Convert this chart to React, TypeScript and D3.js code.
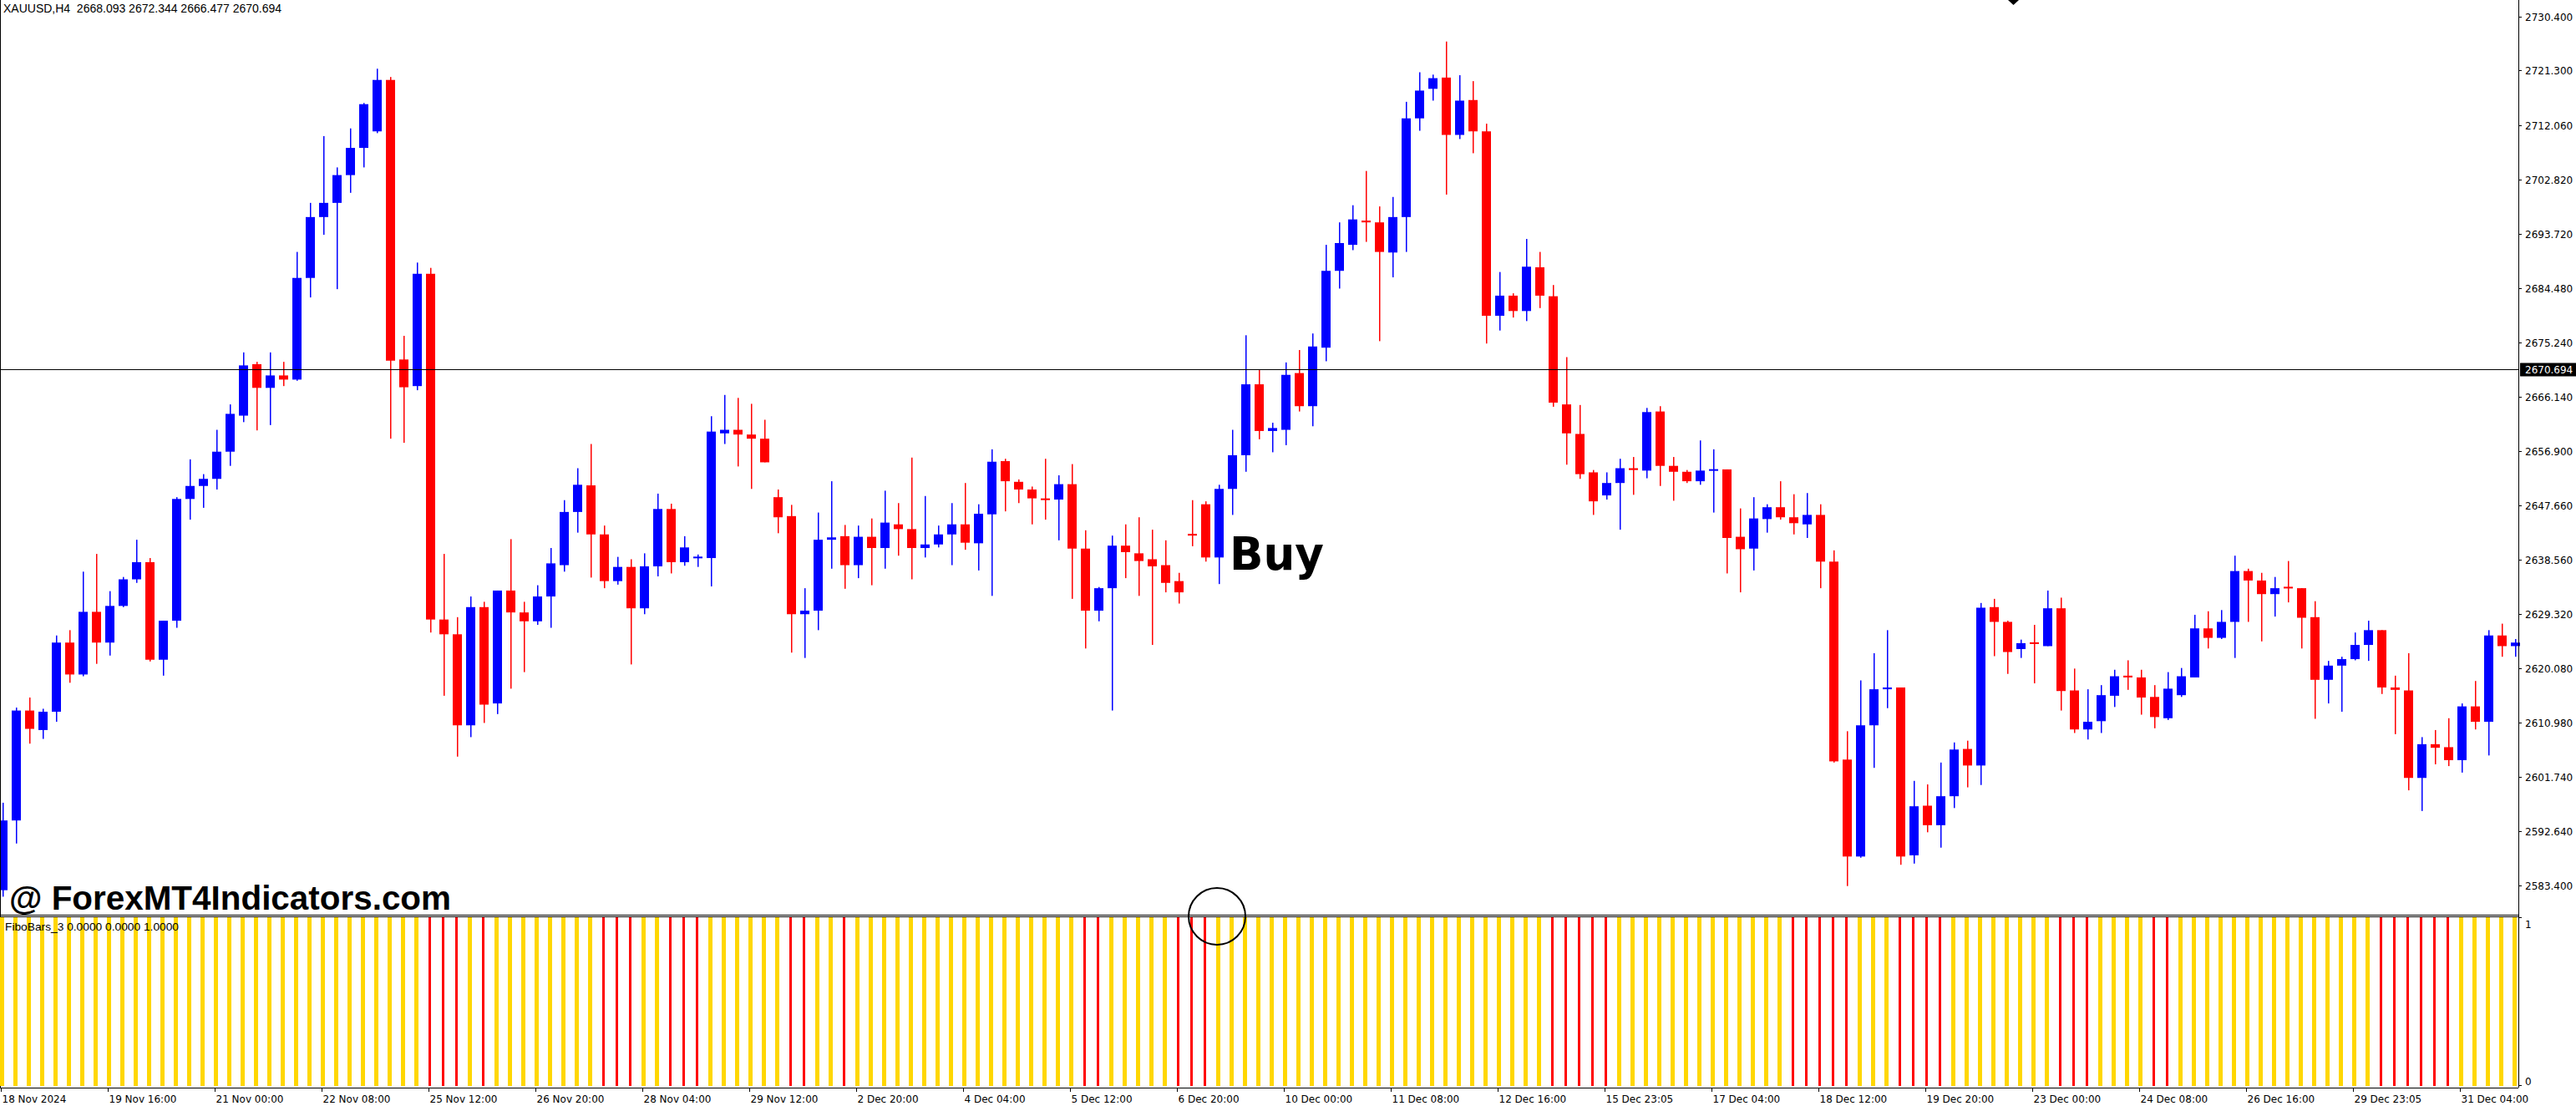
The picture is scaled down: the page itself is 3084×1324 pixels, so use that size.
import React, { useEffect } from "react";
import * as d3 from "d3";

// ---- data (XAUUSD H4, 18 Nov 2024 - 31 Dec 2024) ----
const opens = [
  2582.6, 2594.4, 2613.0, 2609.7, 2612.8, 2624.5, 2619.1, 2629.7, 2624.5, 2630.7,
  2635.2, 2638.1, 2621.6, 2628.2, 2648.8, 2651.0, 2652.2, 2656.8, 2662.9, 2671.6,
  2667.6, 2669.7, 2669.0, 2686.2, 2696.5, 2698.9, 2703.6, 2708.2, 2711.0, 2719.7,
  2672.4, 2667.9, 2686.9, 2628.4, 2625.9, 2610.5, 2630.5, 2614.2, 2633.3, 2629.6,
  2628.1, 2632.3, 2637.6, 2646.6, 2651.1, 2642.8, 2634.9, 2637.3, 2630.3, 2637.4,
  2647.1, 2638.1, 2638.8, 2638.8, 2659.9, 2660.5, 2659.7, 2659.0, 2649.1, 2645.9,
  2629.3, 2629.9, 2641.9, 2642.5, 2637.6, 2642.4, 2640.5, 2644.5, 2643.7, 2640.5,
  2641.1, 2642.8, 2644.5, 2641.3, 2646.2, 2655.2, 2651.7, 2650.4, 2648.8, 2648.7,
  2651.3, 2640.4, 2629.9, 2633.7, 2640.9, 2639.6, 2638.6, 2637.6, 2634.9, 2642.9,
  2647.9, 2638.9, 2650.5, 2656.2, 2668.2, 2660.3, 2660.5, 2670.1, 2664.5, 2674.4,
  2687.4, 2691.8, 2695.9, 2695.6, 2690.5, 2696.5, 2713.2, 2718.2, 2720.1, 2710.4,
  2716.3, 2711.0, 2679.8, 2683.2, 2680.6, 2688.0, 2683.1, 2664.8, 2659.8, 2653.3,
  2649.4, 2651.5, 2654.0, 2653.6, 2663.6, 2654.4, 2653.4, 2651.8, 2653.6, 2653.8,
  2642.4, 2640.4, 2645.4, 2647.4, 2645.7, 2644.5, 2646.1, 2638.2, 2604.7, 2588.3,
  2610.5, 2616.6, 2616.9, 2588.5, 2596.9, 2593.6, 2598.5, 2606.5, 2603.7, 2630.5,
  2628.0, 2623.4, 2624.5, 2623.9, 2630.3, 2616.4, 2609.8, 2611.2, 2615.5, 2618.9,
  2618.6, 2615.3, 2611.7, 2615.6, 2618.6, 2626.9, 2625.3, 2628.0, 2636.6, 2635.0,
  2632.7, 2633.9, 2633.7, 2628.8, 2618.2, 2620.6, 2621.7, 2624.1, 2626.6, 2616.9,
  2616.4, 2601.6, 2607.3, 2606.8, 2604.6, 2613.7, 2611.1, 2625.7, 2623.9,
];
const highs = [
  2597.4, 2613.5, 2615.2, 2613.3, 2625.7, 2626.6, 2636.5, 2639.5, 2633.2, 2635.6,
  2641.9, 2638.8, 2628.2, 2649.1, 2655.5, 2653.0, 2660.5, 2664.8, 2673.6, 2672.0,
  2673.6, 2672.0, 2690.6, 2698.9, 2710.2, 2704.9, 2711.5, 2715.8, 2721.6, 2720.2,
  2676.4, 2688.8, 2687.9, 2639.5, 2628.8, 2632.3, 2631.4, 2633.3, 2642.0, 2631.4,
  2634.2, 2640.5, 2648.6, 2654.0, 2658.1, 2644.3, 2639.0, 2638.6, 2639.6, 2649.7,
  2648.0, 2642.5, 2639.4, 2662.8, 2666.4, 2665.9, 2664.9, 2662.2, 2650.4, 2647.8,
  2633.7, 2646.5, 2651.8, 2644.4, 2644.3, 2645.5, 2650.2, 2648.1, 2655.8, 2649.3,
  2644.3, 2648.1, 2651.5, 2647.9, 2657.2, 2655.6, 2652.1, 2650.9, 2655.6, 2652.8,
  2654.7, 2643.5, 2633.9, 2642.6, 2644.5, 2645.7, 2643.6, 2641.8, 2636.3, 2648.6,
  2648.4, 2651.2, 2660.5, 2676.5, 2670.6, 2661.7, 2671.9, 2674.0, 2676.8, 2691.8,
  2695.6, 2698.5, 2704.3, 2698.3, 2699.9, 2716.0, 2721.0, 2720.6, 2726.2, 2720.5,
  2719.5, 2712.3, 2687.2, 2683.6, 2692.8, 2690.6, 2685.0, 2672.8, 2664.7, 2653.7,
  2653.3, 2655.6, 2655.9, 2664.2, 2664.5, 2655.9, 2653.7, 2658.7, 2657.2, 2653.8,
  2647.2, 2649.1, 2647.9, 2651.8, 2649.6, 2649.8, 2647.9, 2640.1, 2609.5, 2618.1,
  2622.7, 2626.6, 2616.9, 2601.1, 2600.5, 2604.2, 2607.6, 2607.9, 2631.2, 2631.9,
  2628.2, 2625.0, 2627.5, 2633.3, 2632.1, 2620.1, 2616.6, 2617.3, 2619.9, 2621.5,
  2619.9, 2617.3, 2619.5, 2620.2, 2629.2, 2629.8, 2630.0, 2639.2, 2637.0, 2636.3,
  2635.6, 2638.3, 2633.7, 2631.5, 2621.4, 2622.1, 2626.2, 2628.2, 2626.6, 2618.9,
  2622.7, 2608.5, 2609.7, 2611.7, 2614.2, 2618.0, 2626.6, 2627.7, 2625.1,
];
const lows = [
  2581.5, 2590.5, 2607.4, 2608.2, 2611.1, 2617.7, 2618.8, 2620.9, 2622.3, 2630.5,
  2634.6, 2621.3, 2618.9, 2627.0, 2645.3, 2647.3, 2650.4, 2654.4, 2661.8, 2660.4,
  2661.3, 2667.9, 2668.8, 2682.9, 2693.5, 2684.3, 2700.6, 2704.9, 2710.7, 2659.0,
  2658.3, 2667.2, 2626.2, 2615.5, 2605.2, 2608.5, 2610.9, 2612.4, 2616.7, 2619.5,
  2627.5, 2627.0, 2636.5, 2643.1, 2635.5, 2633.7, 2634.3, 2620.8, 2629.3, 2635.7,
  2636.2, 2637.5, 2637.3, 2634.0, 2658.1, 2654.3, 2650.5, 2655.0, 2643.0, 2622.8,
  2621.9, 2626.6, 2637.0, 2633.6, 2635.4, 2634.2, 2637.0, 2639.2, 2635.2, 2638.9,
  2640.6, 2637.6, 2640.2, 2636.7, 2632.4, 2646.7, 2648.1, 2644.5, 2645.3, 2641.8,
  2631.9, 2623.5, 2628.1, 2613.0, 2635.4, 2632.4, 2624.1, 2633.0, 2631.1, 2640.8,
  2638.2, 2634.4, 2646.1, 2653.4, 2658.9, 2656.7, 2657.9, 2663.6, 2661.1, 2672.1,
  2684.4, 2690.9, 2692.3, 2675.5, 2686.3, 2690.6, 2711.1, 2716.2, 2700.3, 2709.7,
  2707.3, 2675.1, 2677.3, 2679.5, 2678.9, 2681.1, 2664.4, 2654.6, 2652.2, 2646.1,
  2648.7, 2643.6, 2649.5, 2652.3, 2651.0, 2648.5, 2651.5, 2651.2, 2646.5, 2636.2,
  2633.0, 2636.7, 2643.1, 2645.3, 2642.8, 2642.2, 2633.7, 2604.2, 2583.3, 2588.1,
  2603.3, 2613.4, 2586.9, 2587.1, 2592.4, 2589.8, 2596.5, 2600.0, 2600.4, 2622.2,
  2619.2, 2621.9, 2617.6, 2623.9, 2613.0, 2609.2, 2608.1, 2609.2, 2613.6, 2616.5,
  2612.3, 2610.0, 2611.4, 2615.3, 2618.6, 2623.5, 2625.1, 2621.9, 2628.0, 2624.7,
  2628.9, 2631.3, 2623.5, 2611.6, 2614.2, 2612.8, 2621.5, 2621.4, 2615.8, 2609.0,
  2599.5, 2596.0, 2603.9, 2603.6, 2602.5, 2609.8, 2605.4, 2622.1, 2622.1,
];
const closes = [
  2594.4, 2613.0, 2609.9, 2612.8, 2624.5, 2619.1, 2629.7, 2624.5, 2630.7, 2635.2,
  2638.1, 2621.6, 2628.2, 2648.8, 2651.0, 2652.2, 2656.8, 2663.2, 2671.4, 2667.6,
  2669.7, 2669.0, 2686.2, 2696.5, 2698.9, 2703.6, 2708.2, 2715.6, 2719.7, 2672.2,
  2667.7, 2686.9, 2628.4, 2625.9, 2610.5, 2630.5, 2614.0, 2633.3, 2629.6, 2628.1,
  2632.3, 2637.9, 2646.6, 2651.2, 2642.8, 2634.9, 2637.3, 2630.3, 2637.4, 2647.1,
  2638.1, 2640.6, 2639.0, 2660.2, 2660.5, 2659.7, 2659.0, 2655.0, 2645.7, 2629.3,
  2629.9, 2641.9, 2642.3, 2637.6, 2642.4, 2640.5, 2644.8, 2643.7, 2640.5, 2641.1,
  2642.8, 2644.5, 2641.4, 2646.3, 2655.1, 2651.8, 2650.4, 2648.9, 2648.7, 2651.3,
  2640.4, 2629.9, 2633.7, 2640.9, 2639.8, 2638.3, 2637.4, 2634.6, 2633.0, 2642.6,
  2638.9, 2650.5, 2656.2, 2668.2, 2660.3, 2660.8, 2669.8, 2664.5, 2674.6, 2687.4,
  2692.1, 2696.1, 2695.6, 2690.6, 2696.5, 2713.2, 2717.9, 2720.0, 2710.4, 2716.2,
  2711.0, 2679.8, 2683.2, 2680.6, 2688.1, 2683.2, 2665.1, 2659.9, 2653.0, 2648.4,
  2651.5, 2654.0, 2653.7, 2663.5, 2654.4, 2653.4, 2651.8, 2653.6, 2653.8, 2642.2,
  2640.3, 2645.5, 2647.4, 2645.7, 2644.7, 2646.1, 2638.2, 2604.4, 2588.3, 2610.5,
  2616.6, 2616.9, 2588.3, 2596.8, 2593.6, 2598.5, 2606.4, 2603.7, 2630.4, 2628.0,
  2622.9, 2624.4, 2624.3, 2630.3, 2616.3, 2609.8, 2611.1, 2615.6, 2618.8, 2618.6,
  2615.2, 2611.9, 2616.7, 2618.8, 2626.9, 2625.3, 2628.0, 2636.6, 2635.0, 2632.7,
  2633.7, 2633.7, 2628.7, 2618.2, 2620.6, 2621.7, 2624.1, 2626.6, 2616.9, 2616.5,
  2601.6, 2607.3, 2606.7, 2604.6, 2613.7, 2611.1, 2625.7, 2623.9, 2624.5,
];

// FiboBars_3 state per bar: Y = up (gold), R = down (red)
const fiboSignal = (
  "YYYYYYYYYYYYYYYYYYYYYYYYYYYYYYYY" + // 0-31
  "RRRYRYYYYYYYYRRRYYRRRYYYYYYRRYYR" + // 32-63
  "YYYYYYYYYYYYYYYYYRRYYYYYRRRYYYYY" + // 64-95
  "YYYYYYYYYYYYYYYYYYYYRRRRRYYYYYYY" + // 96-127
  "YYYYYYRRRRRYYYRRRRYYYYYYYYRRRYYY" + // 128-159
  "YRRYYYYYYYYYYYYYYYRRRRRRYYYYY"      // 160-188
).split("");

const priceTicks = [
  "2730.400", "2721.300", "2712.060", "2702.820", "2693.720", "2684.480",
  "2675.240", "2666.140", "2656.900", "2647.660", "2638.560", "2629.320",
  "2620.080", "2610.980", "2601.740", "2592.640", "2583.400",
];

const timeLabels = [
  "18 Nov 2024", "19 Nov 16:00", "21 Nov 00:00", "22 Nov 08:00", "25 Nov 12:00",
  "26 Nov 20:00", "28 Nov 04:00", "29 Nov 12:00", "2 Dec 20:00", "4 Dec 04:00",
  "5 Dec 12:00", "6 Dec 20:00", "10 Dec 00:00", "11 Dec 08:00", "12 Dec 16:00",
  "15 Dec 23:05", "17 Dec 04:00", "18 Dec 12:00", "19 Dec 20:00", "23 Dec 00:00",
  "24 Dec 08:00", "26 Dec 16:00", "29 Dec 23:05", "31 Dec 04:00",
];
const timeLabelStep = 8;

const headerText = "XAUUSD,H4  2668.093 2672.344 2666.477 2670.694";
const bidPrice = 2670.694;
const indicatorLabel = "FiboBars_3 0.0000 0.0000 1.0000";
const signalBarIndex = 91;

// ---- layout ----
const W = 3084;
const H = 1324;
const AXIS_X = 3015;
const MAIN_BOTTOM = 1095;
const IND_TOP = 1097;
const IND_BOTTOM = 1302;
const FONT = "'DejaVu Sans', Verdana, sans-serif";
const LABEL_FONT = "'Liberation Sans', Arial, sans-serif";

export default function App() {
  useEffect(() => {
    document.body.style.margin = "0";
  }, []);

  const n = closes.length;
  const x = d3.scaleLinear().domain([0, n - 1]).range([3, 3011]);
  const y = d3.scaleLinear().domain([2583.4, 2730.4]).range([1060, 20]);
  const yi = d3.scaleLinear().domain([0, 1]).range([1300, 1098]);

  const BLUE = "#0000ff";
  const RED = "#ff0000";
  const GOLD = "#ffd700";

  const candles = d3.range(n).map((i) => {
    const o = opens[i], c = closes[i], h = highs[i], l = lows[i];
    const up = c >= o;
    const col = up ? BLUE : RED;
    const cx = Math.round(x(i));
    const yTop = y(Math.max(o, c));
    const yBot = y(Math.min(o, c));
    const bh = Math.max(2, yBot - yTop);
    return (
      <g key={i}>
        <rect x={cx} y={y(h)} width={1.5} height={y(l) - y(h)} fill={col} />
        <rect x={cx - 5} y={bh === 2 ? (yTop + yBot) / 2 - 1 : yTop} width={11} height={bh} fill={col} />
      </g>
    );
  });

  const indBars = fiboSignal.map((s, i) => {
    const cx = Math.round(x(i));
    const isUp = s === "Y";
    const w = isUp ? 5 : 3;
    return (
      <rect
        key={i}
        x={cx - (isUp ? 3 : 2)}
        y={yi(1)}
        width={w}
        height={yi(0) - yi(1)}
        fill={isUp ? GOLD : RED}
      />
    );
  });

  const bidY = Math.round(y(bidPrice)) + 0.5;
  const circleX = x(signalBarIndex) - 2;

  return (
    <svg
      width={W}
      height={H}
      style={{ position: "absolute", left: 0, top: 0, background: "#fff", display: "block" }}
      fontFamily={FONT}
    >
      <rect x={0} y={0} width={W} height={H} fill="#fff" />

      {/* candles */}
      <g>{candles}</g>

      {/* bid line */}
      <line x1={0} x2={AXIS_X} y1={bidY} y2={bidY} stroke="#000" strokeWidth={1} />

      {/* header */}
      <text
        x={4}
        y={15}
        fontSize={14}
        fontFamily={LABEL_FONT}
        fill="#000"
        textLength={333}
        lengthAdjust="spacingAndGlyphs"
        style={{ whiteSpace: "pre" }}
      >
        {headerText}
      </text>

      {/* small arrow at top */}
      <polygon points="2404,0 2417,0 2410.5,6" fill="#000" />

      {/* Buy label */}
      <text x={1472} y={682} fontSize={56} fontWeight={900} fill="#000" textLength={113} lengthAdjust="spacingAndGlyphs">
        Buy
      </text>

      {/* watermark */}
      <text
        x={11}
        y={1089}
        fontSize={40}
        fontWeight={700}
        fontFamily={LABEL_FONT}
        fill="#000"
        textLength={529}
        lengthAdjust="spacingAndGlyphs"
        style={{ whiteSpace: "pre" }}
      >
        @ ForexMT4Indicators.com
      </text>

      {/* panel borders */}
      <line x1={0.5} x2={0.5} y1={0} y2={IND_BOTTOM} stroke="#000" strokeWidth={1} />
      <line x1={0} x2={AXIS_X} y1={MAIN_BOTTOM + 0.5} y2={MAIN_BOTTOM + 0.5} stroke="#000" />
      <line x1={0} x2={AXIS_X} y1={IND_TOP + 0.5} y2={IND_TOP + 0.5} stroke="#000" />
      <line x1={0} x2={AXIS_X} y1={IND_BOTTOM + 0.5} y2={IND_BOTTOM + 0.5} stroke="#000" />
      <line x1={AXIS_X + 0.5} x2={AXIS_X + 0.5} y1={0} y2={IND_BOTTOM} stroke="#000" strokeWidth={1} />

      {/* indicator */}
      <g>{indBars}</g>
      <text
        x={6}
        y={1114}
        fontSize={13.5}
        fontFamily={LABEL_FONT}
        fill="#000"
        textLength={208}
        lengthAdjust="spacingAndGlyphs"
        style={{ whiteSpace: "pre" }}
      >
        {indicatorLabel}
      </text>
      <circle cx={circleX} cy={1097} r={34} fill="none" stroke="#000" strokeWidth={2} />

      {/* price axis */}
      {priceTicks.map((t) => {
        const ty = Math.round(y(parseFloat(t))) + 0.5;
        return (
          <g key={t}>
            <line x1={AXIS_X} x2={AXIS_X + 4} y1={ty} y2={ty} stroke="#000" />
            <text x={3023} y={ty + 4.5} fontSize={12} fill="#000">
              {t}
            </text>
          </g>
        );
      })}
      <rect x={AXIS_X + 2} y={bidY - 8} width={W - AXIS_X - 2} height={16} fill="#000" />
      <text x={3023} y={bidY + 4.5} fontSize={12} fill="#fff">
        {bidPrice.toFixed(3)}
      </text>

      {/* indicator axis */}
      <line x1={AXIS_X} x2={AXIS_X + 4} y1={yi(1) + 0.5} y2={yi(1) + 0.5} stroke="#000" />
      <text x={3023} y={yi(1) + 13} fontSize={12} fill="#000">1</text>
      <line x1={AXIS_X} x2={AXIS_X + 4} y1={yi(0) - 0.5} y2={yi(0) - 0.5} stroke="#000" />
      <text x={3023} y={yi(0) - 1} fontSize={12} fill="#000">0</text>

      {/* time axis */}
      {timeLabels.map((t, k) => {
        const tx = Math.round(x(k * timeLabelStep)) - 2 + 0.5;
        return (
          <g key={t}>
            <line x1={tx} x2={tx} y1={IND_BOTTOM} y2={IND_BOTTOM + 5} stroke="#000" />
            <text x={tx + 1} y={1320} fontSize={12} fill="#000">
              {t}
            </text>
          </g>
        );
      })}
    </svg>
  );
}
